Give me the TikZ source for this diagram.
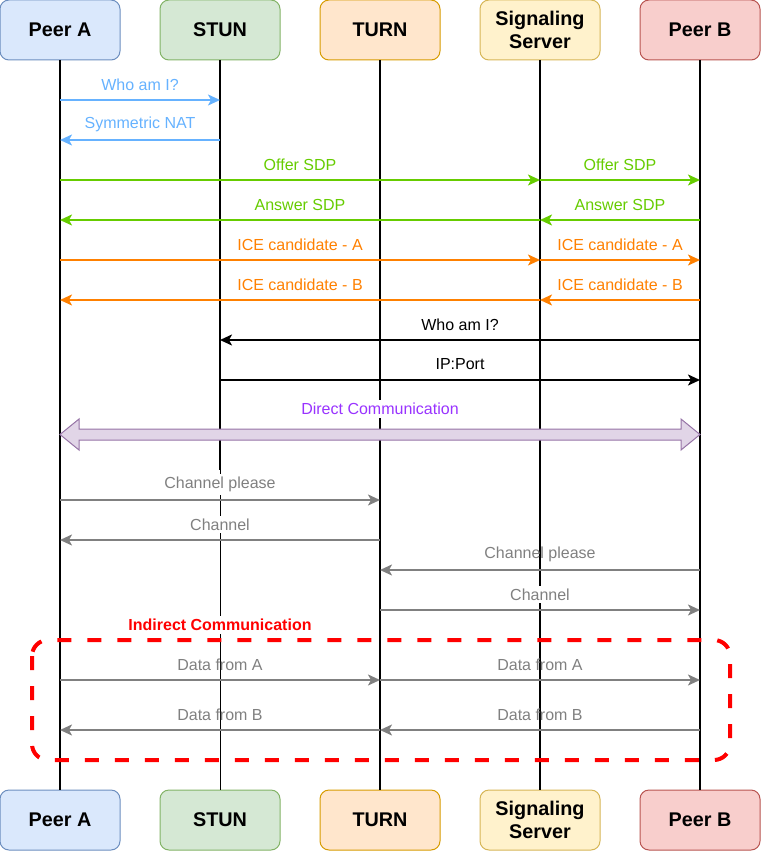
\documentclass[tikz,border=0pt]{standalone}
\usepackage{fontspec}
\setmainfont{Liberation Sans}
\usetikzlibrary{positioning,calc,arrows.meta}
\definecolor{aFill}{HTML}{DAE8FC}\definecolor{aLine}{HTML}{6C8EBF}
\definecolor{sFill}{HTML}{D5E8D4}\definecolor{sLine}{HTML}{82B366}
\definecolor{tFill}{HTML}{FFE6CC}\definecolor{tLine}{HTML}{D79B00}
\definecolor{gFill}{HTML}{FFF2CC}\definecolor{gLine}{HTML}{D6B656}
\definecolor{bFill}{HTML}{F8CECC}\definecolor{bLine}{HTML}{B85450}
\definecolor{msgBlue}{HTML}{66B2FF}
\definecolor{msgGreen}{HTML}{66CC00}
\definecolor{msgOrange}{HTML}{FF8000}
\definecolor{msgGray}{HTML}{808080}
\definecolor{directText}{HTML}{9933FF}
\definecolor{directFill}{HTML}{E1D5E7}\definecolor{directLine}{HTML}{9673A6}
\tikzset{
  actor/.style    = {shape=rectangle, rounded corners=9pt, draw, line width=1pt,
                     align=center, outer sep=0pt,
                     minimum width=120pt, minimum height=60pt,
                     font=\fontsize{19.8}{23}\selectfont\bfseries},
  peerA/.style    = {actor, fill=aFill, draw=aLine},
  stunbox/.style  = {actor, fill=sFill, draw=sLine},
  turnbox/.style  = {actor, fill=tFill, draw=tLine},
  sigbox/.style   = {actor, fill=gFill, draw=gLine},
  peerB/.style    = {actor, fill=bFill, draw=bLine},
  life/.style     = {line width=2pt},
  msg/.style      = {line width=2pt, -{Stealth[length=12pt,width=11pt,inset=3pt]}},
  lbl/.style      = {midway, yshift=15.5pt, inner sep=3pt,
                     font=\fontsize{16}{18}\selectfont},
  lblbg/.style    = {lbl, fill=white}
}
\begin{document}
\begin{tikzpicture}[x=1pt, y=-1pt]
  \useasboundingbox (0,0) rectangle (762,851);

  % participants
  \node[peerA] (pa) at (60,30) {Peer A};
  \node[stunbox, right=40pt of pa] (stun) {STUN};
  \node[turnbox, right=40pt of stun] (turn) {TURN};
  \node[sigbox, right=40pt of turn] (sig) {Signaling\\Server};
  \node[peerB, right=40pt of sig] (pb) {Peer B};

  \node[peerA, below=730pt of pa] (pa2) {Peer A};
  \node[stunbox, below=730pt of stun] (stun2) {STUN};
  \node[turnbox, below=730pt of turn] (turn2) {TURN};
  \node[sigbox, below=730pt of sig] (sig2) {Signaling\\Server};
  \node[peerB, below=730pt of pb] (pb2) {Peer B};

  % lifelines
  \coordinate (stunmid) at (stun |- 0,470);
  \draw[life] (pa) -- (pa2);
  \draw[life] (stun) -- (stunmid);
  \draw[line width=1pt] (stunmid) -- (stun2);
  \draw[life] (turn) -- (turn2);
  \draw[life] (sig) -- (sig2);
  \draw[life] (pb) -- (pb2);

  % STUN lookup
  \draw[msg, msgBlue] (pa |- 0,100) -- node[lbl] {Who am I?} (stun |- 0,100);
  \draw[msg, msgBlue] (stun |- 0,140) -- node[lbl] {Symmetric NAT} (pa |- 0,140);

  % signaling
  \draw[msg, msgGreen] (pa |- 0,180) -- node[lbl] {Offer SDP} (sig |- 0,180);
  \draw[msg, msgGreen] (sig |- 0,180) -- node[lbl] {Offer SDP} (pb |- 0,180);
  \draw[msg, msgGreen] (pb |- 0,220) -- node[lbl] {Answer SDP} (sig |- 0,220);
  \draw[msg, msgGreen] (sig |- 0,220) -- node[lbl] {Answer SDP} (pa |- 0,220);
  \draw[msg, msgOrange] (pa |- 0,260) -- node[lbl] {ICE candidate - A} (sig |- 0,260);
  \draw[msg, msgOrange] (sig |- 0,260) -- node[lbl] {ICE candidate - A} (pb |- 0,260);
  \draw[msg, msgOrange] (pb |- 0,300) -- node[lbl] {ICE candidate - B} (sig |- 0,300);
  \draw[msg, msgOrange] (sig |- 0,300) -- node[lbl] {ICE candidate - B} (pa |- 0,300);

  \draw[msg] (pb |- 0,340) -- node[lbl] {Who am I?} (stun |- 0,340);
  \draw[msg] (stun |- 0,380) -- node[lbl] {IP:Port} (pb |- 0,380);

  % direct
  \coordinate (dl) at (pa |- 0,434.5);
  \coordinate (dr) at (pb |- 0,434.5);
  \draw[fill=directFill, draw=directLine, line width=1pt, line join=miter]
    (dl) -- ++(19,-15.5) -- ++(0,10) -- ($(dr)+(-19,-5.5)$) -- ++(0,-10)
    -- (dr) -- ++(-19,15.5) -- ++(0,-10) -- ($(dl)+(19,5.5)$) -- ++(0,10) -- cycle;
  \node[fill=white, inner sep=3pt, text=directText,
        font=\fontsize{16}{18}\selectfont] (direct) at (380,409) {Direct Communication};

  % TURN relay
  \draw[msg, msgGray] (pa |- 0,500) -- node[lblbg] {Channel please} (turn |- 0,500);
  \draw[msg, msgGray] (turn |- 0,540) -- node[lblbg] {Channel} (pa |- 0,540);
  \draw[msg, msgGray] (pb |- 0,570) -- node[lbl] {Channel please} (turn |- 0,570);
  \draw[msg, msgGray] (turn |- 0,610) -- node[lblbg] {Channel} (pb |- 0,610);

  \draw[red, line width=4pt, dash pattern=on 14pt off 16pt, rounded corners=16pt]
    (32,640) rectangle (730,760);
  \node[fill=white, inner sep=3pt, text=red,
        font=\fontsize{16}{18}\selectfont\bfseries] (indirect) at (220,625) {Indirect Communication};

  \draw[msg, msgGray] (pa |- 0,680) -- node[lbl] {Data from A} (turn |- 0,680);
  \draw[msg, msgGray] (turn |- 0,680) -- node[lbl] {Data from A} (pb |- 0,680);
  \draw[msg, msgGray] (pb |- 0,730) -- node[lbl] {Data from B} (turn |- 0,730);
  \draw[msg, msgGray] (turn |- 0,730) -- node[lbl] {Data from B} (pa |- 0,730);
\end{tikzpicture}
\end{document}
